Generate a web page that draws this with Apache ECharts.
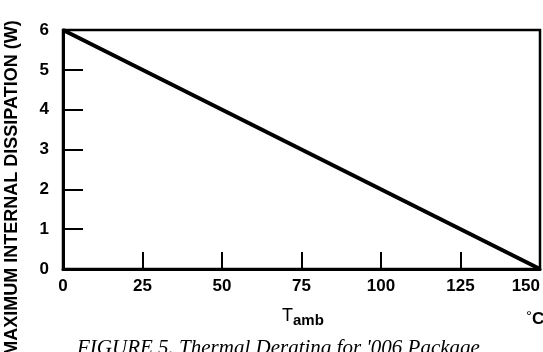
<!DOCTYPE html>
<html><head><meta charset="utf-8">
<script src="https://cdn.jsdelivr.net/npm/echarts@6/dist/echarts.min.js"></script>
<style>html,body{margin:0;padding:0;background:#fff}#c{width:543px;height:352px}</style>
</head><body><div id="c"></div>
<script>
const tempC = [0, 150];
const maxPowerW = [6, 0];
const xTicks = [0, 25, 50, 75, 100, 125, 150];
const yTicks = [0, 1, 2, 3, 4, 5, 6];
const yTitle = 'MAXIMUM INTERNAL DISSIPATION (W)';
const caption = "FIGURE 5. Thermal Derating for '006 Package";

const chart = echarts.init(document.getElementById('c'), null, {renderer: 'canvas'});
const lblFont = {fontFamily: 'Liberation Sans', fontWeight: 'bold', fontSize: 17, color: '#000'};
chart.setOption({
  animation: false,
  backgroundColor: '#fff',
  grid: {left: 63, right: 2, top: 30, bottom: 83, show: true, borderColor: '#000', borderWidth: 2.5, backgroundColor: 'transparent'},
  xAxis: {
    type: 'value', min: xTicks[0], max: xTicks[xTicks.length - 1], interval: 25,
    axisLine: {show: true, onZero: false, lineStyle: {color: '#000', width: 3}},
    axisTick: {show: true, inside: true, length: 17, lineStyle: {color: '#000', width: 2}},
    splitLine: {show: false},
    axisLabel: Object.assign({margin: 9, alignMaxLabel: 'right'}, lblFont)
  },
  yAxis: {
    type: 'value', min: yTicks[0], max: yTicks[yTicks.length - 1], interval: 1,
    axisLine: {show: true, onZero: false, lineStyle: {color: '#000', width: 3}},
    axisTick: {show: true, inside: true, length: 20, lineStyle: {color: '#000', width: 2}},
    splitLine: {show: false},
    axisLabel: Object.assign({margin: 14}, lblFont)
  },
  series: [{
    type: 'line',
    data: tempC.map((t, i) => [t, maxPowerW[i]]),
    showSymbol: false,
    lineStyle: {color: '#000', width: 4},
    z: 5
  }],
  graphic: [
    {type: 'text', x: 12, y: 188, rotation: Math.PI / 2,
     style: {text: yTitle, fontFamily: 'Liberation Sans', fontWeight: 'bold', fontSize: 18, fill: '#000', align: 'center', verticalAlign: 'middle'}},
    {type: 'text', x: 282, y: 307,
     style: {text: '{t|T}{s|amb}', fill: '#000', align: 'left', verticalAlign: 'top',
       rich: {t: {fontFamily: 'Liberation Sans', fontSize: 18, fill: '#000', verticalAlign: 'top'},
              s: {fontFamily: 'Liberation Sans', fontWeight: 'bold', fontSize: 15, fill: '#000', padding: [6, 0, 0, 0]}}}},
    {type: 'text', x: 526, y: 305,
     style: {text: '{d|°}{c|C}', fill: '#000', align: 'left', verticalAlign: 'top',
       rich: {d: {fontFamily: 'Liberation Sans', fontSize: 15, fill: '#000'},
              c: {fontFamily: 'Liberation Sans', fontWeight: 'bold', fontSize: 17, fill: '#000', padding: [6, 0, 0, 0]}}}},
    {type: 'text', x: 77, y: 338,
     style: {text: caption, fontFamily: 'Liberation Serif', fontStyle: 'italic', fontSize: 21, fill: '#000', align: 'left', verticalAlign: 'top'}}
  ]
});
</script></body></html>
